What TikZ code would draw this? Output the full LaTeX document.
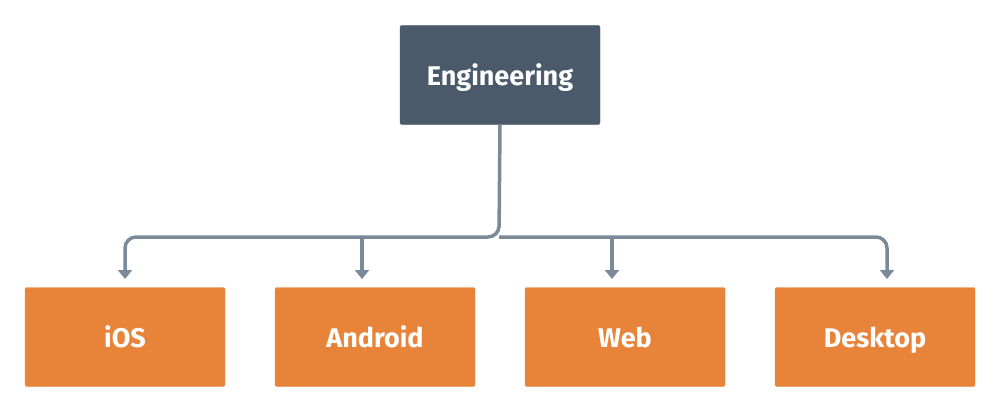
\documentclass[tikz,border=0pt]{standalone}
\usepackage{fontspec}
\setmainfont{Fira Sans}
\usetikzlibrary{arrows.meta}
\definecolor{slate}{HTML}{4A5A6A}
\definecolor{tangerine}{HTML}{E8843A}
\definecolor{wire}{HTML}{7B8A98}

\begin{document}
\begin{tikzpicture}[x=1pt,y=-1pt,
  box/.style={minimum width=200pt,minimum height=99pt,rounded corners=2pt,
    text=white,font=\bfseries\fontsize{27}{31}\selectfont,inner sep=0pt,
    text height=20pt,text depth=0pt},
  lead/.style={draw=slate,fill=slate},
  team/.style={draw=tangerine,fill=tangerine},
  conn/.style={draw=wire,line width=3.5pt,-{Triangle[width=14pt,length=9pt]}}]
   \useasboundingbox (0,0) rectangle (1000,412);
   \node[box,lead] (eng) at (500,75) {Engineering};
   \node[box,team] (ios) at (125,337) {iOS};
   \node[box,team] (android) at (375,337) {Android};
   \node[box,team] (web) at (625,337) {Web};
   \node[box,team] (desktop) at (875,337) {Desktop};
   \coordinate (hub) at (499,237);
   \coordinate (t1) at (125,279);
   \coordinate (t2) at (362,279);
   \coordinate (t3) at (612,279);
   \coordinate (t4) at (887,279);
   % the bus with its two bent ends
   \draw[conn,rounded corners=11pt] (eng.south) -- (hub) -| (t1);
   \draw[conn,rounded corners=11pt] (hub) -| (t4);
   \foreach \t in {t2,t3} % straight drops
     \draw[conn] (\t |- hub) -- (\t);
\end{tikzpicture}
\end{document}
